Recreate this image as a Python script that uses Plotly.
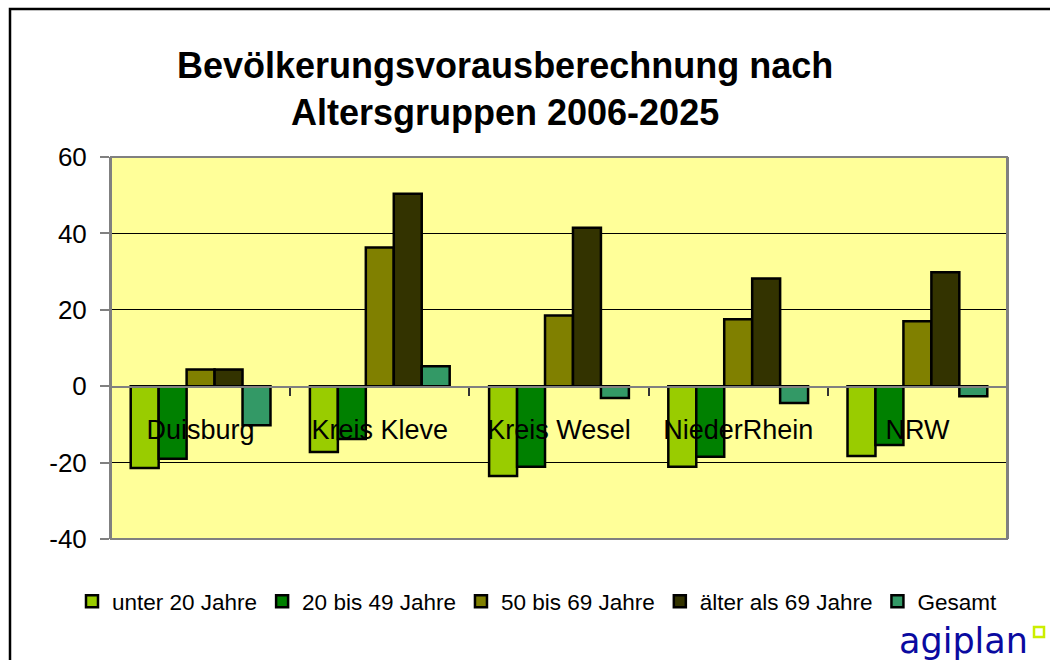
import plotly.graph_objects as go

categories = ["Duisburg", "Kreis Kleve", "Kreis Wesel", "NiederRhein", "NRW"]
series_names = ["unter 20 Jahre", "20 bis 49 Jahre", "50 bis 69 Jahre", "älter als 69 Jahre", "Gesamt"]
unter_20 = [-21.4, -17.2, -23.5, -21.1, -18.3]
bis_49 = [-19.0, -13.8, -21.1, -18.5, -15.4]
bis_69 = [4.4, 36.3, 18.5, 17.5, 17.0]
ueber_69 = [4.4, 50.4, 41.5, 28.2, 29.8]
gesamt = [-10.2, 5.2, -3.1, -4.4, -2.6]
y_ticks = [60, 40, 20, 0, -20, -40]

colors = ["#99CC00", "#008000", "#808000", "#333300", "#339966"]
series = [unter_20, bis_49, bis_69, ueber_69, gesamt]

FONT = "Liberation Sans, Arial, sans-serif"

fig = go.Figure()
for name, vals, col in zip(series_names, series, colors):
    fig.add_trace(go.Bar(
        x=categories, y=vals, name=name,
        marker=dict(color=col, line=dict(color="black", width=2.5)),
    ))

W, H = 1050, 660
ml, mr, mt, mb = 111, 43, 157, 121
PW, PH = W - ml - mr, H - mt - mb


def px(x):
    return (x - ml) / PW


def py(y):
    return (H - mb - y) / PH


fig.update_layout(
    width=W, height=H,
    margin=dict(l=ml, r=mr, t=mt, b=mb, autoexpand=False),
    paper_bgcolor="white",
    plot_bgcolor="#FFFF99",
    barmode="group",
    bargap=0.22,
    bargroupgap=0,
    font=dict(family=FONT, size=22, color="black"),
    showlegend=True,
    legend=dict(
        orientation="h", x=px(72), xanchor="left", y=py(580), yanchor="top",
        font=dict(family=FONT, size=22.5, color="black"),
        itemwidth=30, tracegroupgap=0, itemclick=False,
        bgcolor="rgba(0,0,0,0)",
    ),
    annotations=[
        dict(text="<b>Bevölkerungsvorausberechnung nach<br>Altersgruppen 2006-2025</b>",
             xref="paper", yref="paper", x=px(505), y=py(89),
             xanchor="center", yanchor="middle", showarrow=False,
             font=dict(family=FONT, size=36, color="black"), align="center"),
        dict(text="agiplan", xref="paper", yref="paper",
             x=px(963), y=py(641),
             xanchor="center", yanchor="middle", showarrow=False,
             font=dict(family="DejaVu Sans, sans-serif", size=35, color="#0A0AA0")),
    ],
)

fig.update_xaxes(
    type="category",
    anchor="free", position=(539 - 387) / (539 - 157),
    showline=True, linecolor="#808080", linewidth=2,
    ticks="outside", tickson="boundaries", ticklen=8, tickcolor="#333333", tickwidth=1.5,
    ticklabelstandoff=19,
    tickfont=dict(family=FONT, size=27, color="black"),
    showgrid=False, zeroline=False, fixedrange=True,
)
fig.update_yaxes(
    range=[-40, 60], tickvals=y_ticks, ticktext=[str(v) for v in y_ticks],
    showgrid=True, gridcolor="black", gridwidth=1,
    zeroline=False,
    showline=True, linecolor="#808080", linewidth=2, mirror=True,
    ticks="outside", ticklen=9, tickcolor="#808080", tickwidth=1.5,
    ticklabelstandoff=8,
    tickfont=dict(family=FONT, size=26, color="black"),
    fixedrange=True,
)

# plot-area border (gray, Excel style)
fig.add_shape(type="rect", xref="paper", yref="paper", x0=0, x1=1, y0=0, y1=1,
              line=dict(color="#808080", width=2), layer="above")
# outer chart frame (extends beyond the visible page on right and bottom)
fig.add_shape(type="rect", xref="paper", yref="paper",
              x0=px(10), x1=px(W + 20), y0=py(H + 20), y1=py(9),
              line=dict(color="black", width=2.5), layer="below")
# small logo square
fig.add_shape(type="rect", xref="paper", yref="paper",
              x0=px(1034), x1=px(1044), y0=py(637), y1=py(627),
              line=dict(color="#CCEE00", width=2.5), fillcolor="white")

fig.write_html("out.html", config={"displayModeBar": False},
               post_script="document.body.style.margin='0';")
